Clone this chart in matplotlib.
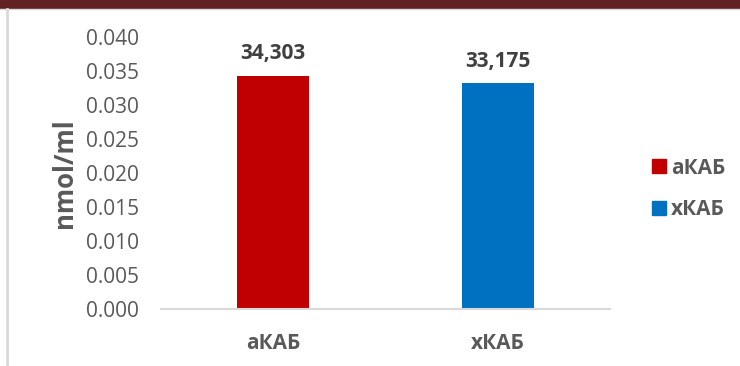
import matplotlib.pyplot as plt
from matplotlib.patches import Patch, Rectangle
from matplotlib.lines import Line2D

# data
categories = ['аКАБ', 'хКАБ']
values = [0.034303, 0.033175]
value_labels = ['34,303', '33,175']
colors = ['#C00000', '#0070C0']
yticks = [0.000, 0.005, 0.010, 0.015, 0.020, 0.025, 0.030, 0.035, 0.040]

plt.rcParams['font.family'] = ['Open Sans', 'DejaVu Sans']

W, H = 740, 366
fig = plt.figure(figsize=(W / 100, H / 100), dpi=100)

# top dark band + frame lines
fig.patches.append(Rectangle((0, 1 - 8 / H), 1, 8 / H, transform=fig.transFigure,
                             color='#622224', zorder=0))
fig.lines.append(Line2D([0, 1], [1 - 9 / H, 1 - 9 / H], transform=fig.transFigure,
                        color='#d9d9d9', lw=1))
fig.lines.append(Line2D([7 / W, 7 / W], [0, 1 - 9 / H], transform=fig.transFigure,
                        color='#d9d9d9', lw=2))

ax = fig.add_axes([161 / W, 1 - 309 / H, 449 / W, 272 / H])
x = range(len(categories))
bars = ax.bar(x, values, width=0.316, color=colors)

for b, lab in zip(bars, value_labels):
    ax.annotate(lab, (b.get_x() + b.get_width() / 2, b.get_height()),
                xytext=(0, 8.5), textcoords='offset points', ha='center', va='bottom',
                fontsize=15, fontweight='bold', color='#404040')

ax.set_xlim(-0.498, 1.498)
ax.set_ylim(0, 0.04)
ax.set_yticks(yticks)
ax.set_yticklabels([f'{t:.3f}' for t in yticks], fontsize=15, color='#595959')
ax.set_xticks(list(x))
ax.set_xticklabels(categories, fontsize=15, fontweight='bold', color='#595959')
ax.tick_params(length=0)
ax.tick_params(axis='x', pad=17)
ax.tick_params(axis='y', pad=16)

for s in ['top', 'right', 'left']:
    ax.spines[s].set_visible(False)
ax.spines['bottom'].set_color('#d9d9d9')
ax.spines['bottom'].set_linewidth(1.5)

ax.set_ylabel('nmol/ml', fontsize=18.5, fontweight='bold', color='#595959')
ax.yaxis.set_label_coords(-0.185, 0.5)

handles = [Patch(color=c, label=l) for c, l in zip(colors, categories)]
fig.legend(handles=handles, loc='center left', bbox_to_anchor=(633 / W, 1 - 189 / H),
           frameon=False, handlelength=0.67, handleheight=0.67, handletextpad=0.25,
           labelspacing=1.0, prop={'size': 15, 'weight': 'bold'}, labelcolor='#595959')

fig.savefig('out.png', dpi=100)
